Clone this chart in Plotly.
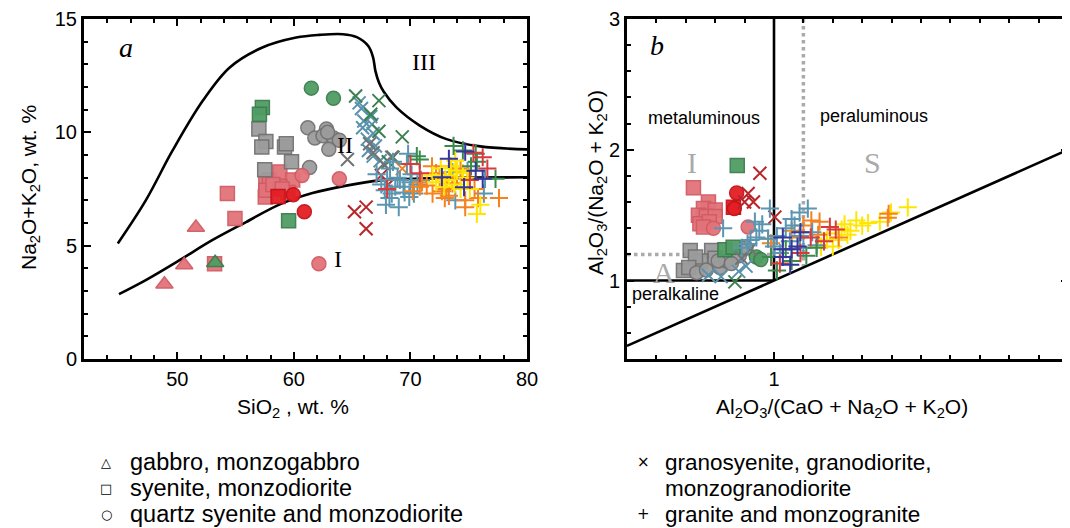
import plotly.graph_objects as go

# ---------------- Panel a: TAS (SiO2 vs Na2O+K2O) ----------------
a_upper_x = [44.9, 47.3, 49.6, 52.2, 54.5, 57.3, 60.2, 62.2, 64.2, 65.4, 66.4, 66.8, 67.0, 67.3, 67.7, 68.8, 70.8, 73.1, 76.0, 80.0]
a_upper_y = [5.1, 7.0, 9.2, 11.4, 12.86, 13.74, 14.18, 14.3, 14.33, 14.2, 13.8, 13.3, 12.7, 12.2, 11.8, 11.1, 10.3, 9.7, 9.38, 9.25]
a_lower_x = [45.0, 47.3, 50.2, 53.0, 55.9, 58.8, 61.6, 64.5, 67.4, 70.3, 75.0, 80.0]
a_lower_y = [2.86, 3.48, 4.36, 5.24, 6.04, 6.82, 7.32, 7.65, 7.88, 7.95, 8.0, 8.02]

a_tri_pink_x = [48.9, 50.6, 51.6]
a_tri_pink_y = [3.3, 4.15, 5.8]
a_tri_green_x = [53.25]
a_tri_green_y = [4.25]

a_sq_pink_x = [53.2, 54.3, 54.95, 57.6, 57.55, 57.9, 58.8, 59.9, 58.8, 59.5, 57.6, 58.2, 59.0]
a_sq_pink_y = [4.2, 7.3, 6.2, 7.8, 7.15, 7.9, 8.25, 7.9, 7.6, 7.35, 7.45, 7.7, 7.5]
a_sq_red_x = [58.65]
a_sq_red_y = [7.17]
a_sq_green_x = [57.3, 57.05, 59.55]
a_sq_green_y = [11.1, 10.8, 6.1]
a_sq_gray_x = [57.0, 57.6, 57.25, 59.2, 59.35, 59.8, 57.5]
a_sq_gray_y = [10.15, 9.6, 9.35, 9.35, 9.5, 8.7, 8.35]

a_ci_pink_x = [60.7, 63.9, 62.15]
a_ci_pink_y = [8.1, 7.95, 4.2]
a_ci_red_x = [59.95, 60.9]
a_ci_red_y = [7.25, 6.5]
a_ci_green_x = [61.5, 63.4]
a_ci_green_y = [11.95, 11.5]
a_ci_gray_x = [61.2, 61.8, 62.8, 62.5, 63.4, 63.9, 63.0, 61.35, 62.9]
a_ci_gray_y = [10.2, 9.75, 10.15, 9.85, 9.75, 9.65, 9.25, 8.45, 10.0]

a_x_gray_x = [64.6, 66.5, 66.8, 67.7, 68.4]
a_x_gray_y = [8.8, 9.5, 9.1, 8.6, 8.9]
a_x_dred_x = [65.2, 66.2, 66.2, 67.5, 68.1]
a_x_dred_y = [6.5, 6.7, 5.75, 8.1, 7.7]
a_x_green_x = [65.3, 67.3, 66.6, 67.3, 69.3, 68.5, 68.1]
a_x_green_y = [11.6, 11.4, 10.8, 10.05, 9.8, 8.9, 8.7]
a_x_steel_x = [65.8, 65.9, 66.6, 66.7, 66.8, 66.4, 66.8, 67.4, 66.0, 66.3, 67.0, 65.6]
a_x_steel_y = [11.05, 10.2, 10.7, 10.35, 9.95, 9.2, 8.95, 8.75, 10.5, 9.7, 9.4, 11.3]
a_x_orange_x = [69.3]
a_x_orange_y = [8.4]

a_p_steel_x = [67.9, 69.0, 67.8, 68.4, 69.1, 70.0, 69.8, 70.1, 70.3, 69.5, 68.25, 68.9, 67.1, 73.6, 74.9, 76.3, 73.85, 76.4, 68.0, 68.7, 69.4, 70.6, 68.5, 69.7, 70.9, 67.5, 68.2, 69.9]
a_p_steel_y = [6.8, 6.7, 7.45, 7.3, 7.9, 7.8, 9.05, 8.15, 7.3, 7.35, 8.4, 8.0, 8.15, 8.25, 8.3, 7.3, 7.0, 7.95, 7.9, 7.6, 7.6, 7.7, 8.7, 8.6, 7.9, 7.7, 7.1, 7.15]
a_p_green_x = [73.7, 75.6, 70.55, 77.3, 75.7, 74.5, 75.2, 70.8]
a_p_green_y = [9.4, 9.05, 8.95, 7.95, 8.7, 9.2, 8.5, 8.8]
a_p_red_x = [76.6, 76.2, 75.1, 70.0, 70.8, 68.0, 75.4]
a_p_red_y = [8.4, 8.9, 7.9, 8.6, 8.2, 7.5, 9.1]
a_p_orange_x = [71.85, 71.4, 71.9, 73.1, 73.4, 72.95, 74.7, 74.7, 75.8, 77.6, 74.0, 72.5, 70.8, 70.2, 74.3, 73.6, 72.2, 73.0, 71.0, 75.5, 72.7, 73.3]
a_p_orange_y = [8.5, 7.65, 7.3, 7.5, 8.5, 7.1, 7.0, 6.7, 7.1, 7.1, 8.0, 8.0, 7.6, 7.4, 8.4, 7.75, 8.2, 7.9, 7.8, 7.5, 7.4, 7.2]
a_p_yellow_x = [73.85, 74.0, 73.3, 72.9, 72.2, 74.9, 74.3, 76.0, 75.7, 75.1, 71.9, 73.5, 74.5, 72.6, 73.0, 73.8]
a_p_yellow_y = [8.75, 8.3, 8.1, 7.6, 7.8, 8.0, 7.5, 6.8, 6.4, 7.5, 8.1, 8.5, 8.2, 8.4, 7.9, 7.7]
a_p_navy_x = [73.3, 74.7, 72.7, 74.6, 75.6, 76.2]
a_p_navy_y = [8.83, 9.15, 8.02, 7.58, 8.3, 7.95]

# ---------------- Panel b: A/CNK vs A/NK ----------------
b_diag_x = [0.5, 2.0]
b_diag_y = [0.5, 2.0]
b_h_x = [0.5, 1.0]
b_h_y = [1.0, 1.0]
b_v_x = [1.0, 1.0]
b_v_y = [1.0, 3.0]
b_dv_x = [1.1, 1.1]
b_dv_y = [1.1, 3.0]
b_dh_x = [0.5, 1.0]
b_dh_y = [1.2, 1.2]

b_sq_pink_x = [0.726, 0.777, 0.76, 0.80, 0.743, 0.77, 0.80, 0.748, 0.78, 0.76]
b_sq_pink_y = [1.71, 1.60, 1.55, 1.54, 1.50, 1.49, 1.49, 1.435, 1.45, 1.41]
b_sq_red_x = [0.862]
b_sq_red_y = [1.56]
b_sq_green_x = [0.875, 0.833, 0.861]
b_sq_green_y = [1.88, 1.235, 1.255]
b_sq_gray_x = [0.715, 0.788, 0.692, 0.75, 0.733, 0.80, 0.71]
b_sq_gray_y = [1.23, 1.23, 1.077, 1.15, 1.18, 1.17, 1.10]

b_ci_pink_x = [0.794, 0.912]
b_ci_pink_y = [1.40, 1.41]
b_ci_red_x = [0.873, 0.865]
b_ci_red_y = [1.67, 1.55]
b_ci_green_x = [0.94, 0.955]
b_ci_green_y = [1.18, 1.16]
b_ci_gray_x = [0.737, 0.77, 0.816, 0.838, 0.882, 0.905, 0.81, 0.855]
b_ci_gray_y = [1.06, 1.08, 1.10, 1.15, 1.19, 1.25, 1.15, 1.13]

b_x_gray_x = [0.89, 0.92]
b_x_gray_y = [1.17, 1.24]
b_x_dred_x = [0.952, 0.912, 0.93, 0.90, 1.003]
b_x_dred_y = [1.82, 1.665, 1.60, 1.60, 1.485]
b_x_steel_x = [0.777, 0.82, 0.88, 0.905]
b_x_steel_y = [1.04, 1.03, 1.07, 1.11]
b_x_green_x = [0.867]
b_x_green_y = [0.99]

b_p_steel_x = [0.986, 0.827, 0.935, 0.96, 1.06, 1.087, 1.115, 1.04, 0.91, 0.94, 0.98, 1.01, 1.054, 1.088, 1.13, 1.145, 0.89, 1.02, 0.95, 1.07, 1.10, 1.00, 0.92]
b_p_steel_y = [1.55, 1.40, 1.45, 1.43, 1.47, 1.52, 1.55, 1.40, 1.28, 1.33, 1.32, 1.34, 1.30, 1.34, 1.37, 1.27, 1.25, 1.21, 1.38, 1.42, 1.25, 1.26, 1.31]
b_p_navy_x = [1.03, 1.03, 1.06, 1.03, 1.055, 1.08, 1.09]
b_p_navy_y = [1.33, 1.24, 1.24, 1.18, 1.12, 1.26, 1.37]
b_p_red_x = [1.02, 1.09, 1.125, 1.19, 1.21, 1.17]
b_p_red_y = [1.13, 1.21, 1.33, 1.41, 1.39, 1.30]
b_p_green_x = [1.01, 0.99, 1.04, 1.11, 1.145, 1.06]
b_p_green_y = [1.077, 1.18, 1.24, 1.19, 1.25, 1.15]
b_p_orange_x = [1.127, 1.155, 1.087, 0.98, 0.99, 1.22, 1.387, 1.39, 1.15, 1.06, 1.10]
b_p_orange_y = [1.46, 1.45, 1.33, 1.32, 1.285, 1.33, 1.48, 1.51, 1.35, 1.38, 1.42]
b_p_yellow_x = [1.455, 1.398, 1.36, 1.32, 1.28, 1.24, 1.26, 1.23, 1.19, 1.18, 1.20, 1.16, 1.22, 1.25, 1.30]
b_p_yellow_y = [1.56, 1.52, 1.45, 1.44, 1.46, 1.43, 1.38, 1.39, 1.36, 1.31, 1.26, 1.26, 1.31, 1.35, 1.42]

# legend texts
legend_left = ["gabbro, monzogabbro", "syenite, monzodiorite", "quartz syenite and monzodiorite"]
legend_left_sym = ["\u25B3", "\u25A1", "\u25CB"]
legend_right = ["granosyenite, granodiorite,", "monzogranodiorite", "granite and monzogranite"]
legend_right_sym = ["\u00D7", "", "+"]

# ---------------- styles ----------------
C = dict(
    pink=("#e2737a", "#d25a63"), red=("#e31e24", "#c31217"), green=("#509c64", "#3b7d4c"),
    gray=("#9c9c9c", "#727272"),
)
XC = dict(gray="#727272", dred="#b8252a", green="#3d8050", steel="#5a92ad", orange="#f28022")
PC = dict(steel="#5b96b1", green="#3a8a4c", red="#d83b3c", orange="#f5821f", yellow="#ffe600", navy="#36369c")

fig = go.Figure()

def line(x, y, xa, ya, color="black", width=2.6, dash="solid"):
    fig.add_trace(go.Scatter(x=x, y=y, mode="lines", xaxis=xa, yaxis=ya, showlegend=False,
                             line=dict(color=color, width=width, dash=dash, shape="spline" if len(x) > 2 else "linear"),
                             hoverinfo="skip"))

def filled(x, y, xa, ya, sym, col, size=14):
    fig.add_trace(go.Scatter(x=x, y=y, mode="markers", xaxis=xa, yaxis=ya, showlegend=False,
                             marker=dict(symbol=sym, size=size, color=C[col][0], opacity=0.95,
                                         line=dict(color=C[col][1], width=1.5))))

def thin(x, y, xa, ya, sym, color, size=13):
    fig.add_trace(go.Scatter(x=x, y=y, mode="markers", xaxis=xa, yaxis=ya, showlegend=False,
                             marker=dict(symbol=sym, size=size, color=color,
                                         line=dict(color=color, width=2))))

# panel a
line(a_upper_x, a_upper_y, "x", "y")
line(a_lower_x, a_lower_y, "x", "y")
filled(a_sq_pink_x, a_sq_pink_y, "x", "y", "square", "pink")
filled(a_tri_pink_x, a_tri_pink_y, "x", "y", "triangle-up", "pink", 15)
filled(a_tri_green_x, a_tri_green_y, "x", "y", "triangle-up", "green", 15)
filled(a_sq_gray_x, a_sq_gray_y, "x", "y", "square", "gray")
filled(a_sq_green_x, a_sq_green_y, "x", "y", "square", "green")
filled(a_sq_red_x, a_sq_red_y, "x", "y", "square", "red")
filled(a_ci_gray_x, a_ci_gray_y, "x", "y", "circle", "gray")
filled(a_ci_pink_x, a_ci_pink_y, "x", "y", "circle", "pink")
filled(a_ci_red_x, a_ci_red_y, "x", "y", "circle", "red")
filled(a_ci_green_x, a_ci_green_y, "x", "y", "circle", "green")
thin(a_x_steel_x, a_x_steel_y, "x", "y", "x-thin", XC["steel"])
thin(a_x_green_x, a_x_green_y, "x", "y", "x-thin", XC["green"])
thin(a_x_gray_x, a_x_gray_y, "x", "y", "x-thin", XC["gray"])
thin(a_x_dred_x, a_x_dred_y, "x", "y", "x-thin", XC["dred"])
thin(a_x_orange_x, a_x_orange_y, "x", "y", "x-thin", XC["orange"])
thin(a_p_steel_x, a_p_steel_y, "x", "y", "cross-thin", PC["steel"])
thin(a_p_orange_x, a_p_orange_y, "x", "y", "cross-thin", PC["orange"])
thin(a_p_yellow_x, a_p_yellow_y, "x", "y", "cross-thin", PC["yellow"])
thin(a_p_green_x, a_p_green_y, "x", "y", "cross-thin", PC["green"])
thin(a_p_red_x, a_p_red_y, "x", "y", "cross-thin", PC["red"])
thin(a_p_navy_x, a_p_navy_y, "x", "y", "cross-thin", PC["navy"])

# panel b
line(b_dh_x, b_dh_y, "x2", "y2", "#aaaaaa", 3.5, "dot")
line(b_dv_x, b_dv_y, "x2", "y2", "#aaaaaa", 3.5, "dot")
line(b_diag_x, b_diag_y, "x2", "y2")
line(b_h_x, b_h_y, "x2", "y2")
line(b_v_x, b_v_y, "x2", "y2")
filled(b_sq_pink_x, b_sq_pink_y, "x2", "y2", "square", "pink")
filled(b_ci_pink_x, b_ci_pink_y, "x2", "y2", "circle", "pink")
filled(b_sq_gray_x, b_sq_gray_y, "x2", "y2", "square", "gray")
filled(b_ci_gray_x, b_ci_gray_y, "x2", "y2", "circle", "gray")
filled(b_sq_green_x, b_sq_green_y, "x2", "y2", "square", "green")
filled(b_ci_green_x, b_ci_green_y, "x2", "y2", "circle", "green")
filled(b_sq_red_x, b_sq_red_y, "x2", "y2", "square", "red")
filled(b_ci_red_x, b_ci_red_y, "x2", "y2", "circle", "red")
thin(b_x_dred_x, b_x_dred_y, "x2", "y2", "x-thin", XC["dred"])
thin(b_x_gray_x, b_x_gray_y, "x2", "y2", "x-thin", XC["gray"])
thin(b_x_steel_x, b_x_steel_y, "x2", "y2", "x-thin", XC["steel"])
thin(b_x_green_x, b_x_green_y, "x2", "y2", "x-thin", XC["green"])
thin(b_p_yellow_x, b_p_yellow_y, "x2", "y2", "cross-thin", PC["yellow"])
thin(b_p_orange_x, b_p_orange_y, "x2", "y2", "cross-thin", PC["orange"])
thin(b_p_steel_x, b_p_steel_y, "x2", "y2", "cross-thin", PC["steel"])
thin(b_p_green_x, b_p_green_y, "x2", "y2", "cross-thin", PC["green"])
thin(b_p_red_x, b_p_red_y, "x2", "y2", "cross-thin", PC["red"])
thin(b_p_navy_x, b_p_navy_y, "x2", "y2", "cross-thin", PC["navy"])

FONT = "Liberation Sans, Arial, sans-serif"
SERIF = "Liberation Serif, Times New Roman, serif"
SYM = "DejaVu Sans"

# page has an 8 px body margin: figure is 1062 x 520 and positions are page pixels
W, H, OFF = 1062, 520, 8

def px(x):
    return (x - OFF) / W
def py(y):
    return 1 - (y - OFF) / H

def ax(**kw):
    base = dict(showline=True, linecolor="black", linewidth=3, mirror="allticks", ticks="inside",
                ticklen=7, tickwidth=2, tickcolor="black", showgrid=False, zeroline=False,
                automargin=False, ticklabeloverflow="allow",
                tickfont=dict(family=FONT, size=20, color="black"))
    base.update(kw)
    return base

fig.update_layout(
    template="none",
    width=W, height=H, margin=dict(l=0, r=0, t=0, b=0, pad=0),
    paper_bgcolor="white", plot_bgcolor="white", showlegend=False,
    xaxis=ax(domain=[px(84), px(527)], range=[42, 80], dtick=10, tick0=0, anchor="y",
             minor=dict(dtick=2, ticklen=4, ticks="inside", tickcolor="black", tickwidth=1.5)),
    yaxis=ax(domain=[py(359), py(19)], range=[0, 15], dtick=5, tick0=0, anchor="x",
             minor=dict(dtick=1, ticklen=4, ticks="inside", tickcolor="black", tickwidth=1.5)),
    xaxis2=ax(domain=[px(627), min(1.0, px(1068))], range=[0.5, 2.0], tickvals=[1, 2], anchor="y2",
              minor=dict(dtick=0.1, tick0=0, ticklen=4, ticks="inside", tickcolor="black", tickwidth=1.5)),
    yaxis2=ax(domain=[py(359), py(19)], range=[0.4, 3.0], tickvals=[1, 2, 3], anchor="x2",
              minor=dict(dtick=0.2, tick0=0, ticklen=4, ticks="inside", tickcolor="black", tickwidth=1.5)),
)

ann = []
def txt(x, y, s, size=20, family=FONT, color="black", xanchor="center", angle=0, italic=False):
    if italic:
        s = "<i>" + s + "</i>"
    ann.append(dict(x=px(x), y=py(y), xref="paper", yref="paper", text=s, showarrow=False,
                    font=dict(family=family, size=size, color=color), xanchor=xanchor,
                    yanchor="middle", textangle=angle))

# axis titles
txt(293, 408, "SiO<sub>2</sub> , wt. %", 21)
txt(30, 188, "Na<sub>2</sub>O+K<sub>2</sub>O, wt. %", 21, angle=-90)
txt(842, 408, "Al<sub>2</sub>O<sub>3</sub>/(CaO + Na<sub>2</sub>O + K<sub>2</sub>O)", 21)
txt(597, 183, "Al<sub>2</sub>O<sub>3</sub>/(Na<sub>2</sub>O + K<sub>2</sub>O)", 21, angle=-90)

# panel labels
txt(126, 48, "a", 28, SERIF, italic=True)
txt(657, 46, "b", 28, SERIF, italic=True)
txt(424, 62, "III", 24, SERIF)
txt(345, 145, "II", 24, SERIF)
txt(338, 259, "I", 24, SERIF)
txt(704, 118, "metaluminous", 18)
txt(874, 116, "peraluminous", 18)
txt(692, 162, "I", 30, SERIF, "#aaaaaa")
txt(872, 162, "S", 30, SERIF, "#aaaaaa")
txt(664, 272, "A", 30, SERIF, "#aaaaaa")
txt(630, 294, "peralkaline", 18, xanchor="left")

# bottom legend
rows = [462, 488, 514]
for i in range(3):
    txt(106, rows[i], legend_left_sym[i], 13, SYM)
    txt(128, rows[i], legend_left[i], 23.5, FONT, xanchor="left")
    if legend_right_sym[i]:
        txt(643, rows[i], legend_right_sym[i], 15, SYM)
    txt(663, rows[i], legend_right[i], 22.5, FONT, xanchor="left")

fig.update_layout(annotations=ann)
fig.write_html("out.html")
